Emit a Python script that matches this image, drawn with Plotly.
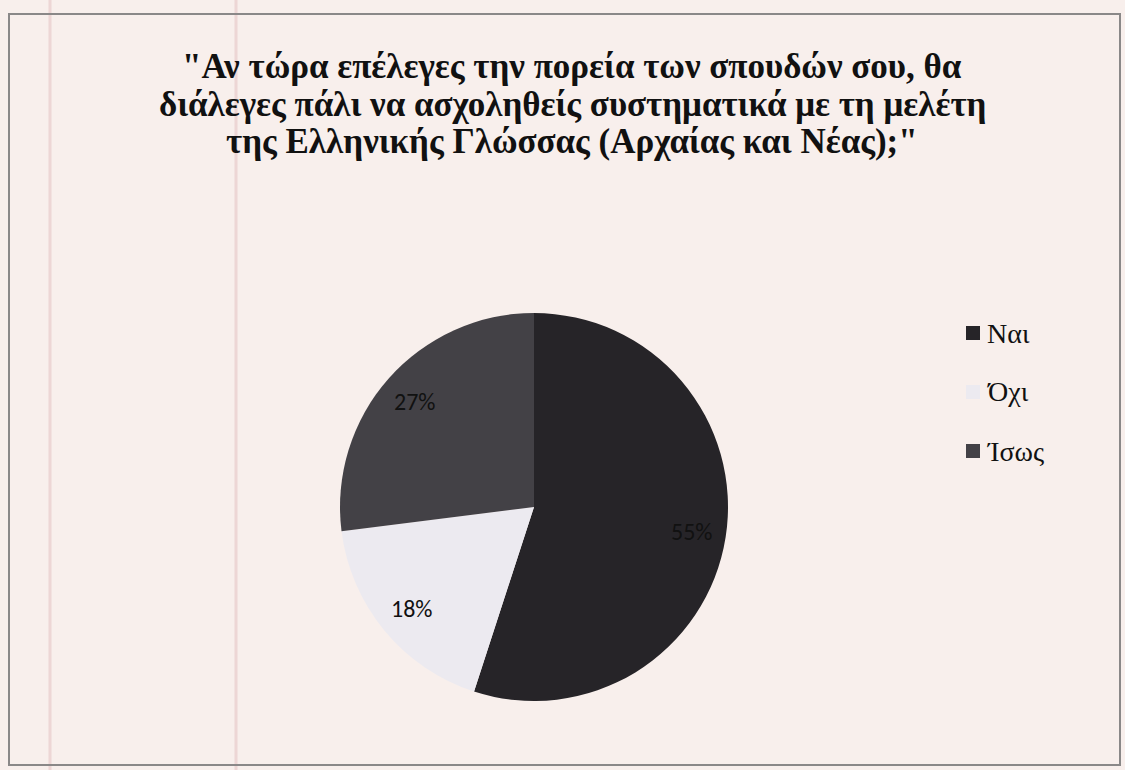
import math
import plotly.graph_objects as go

W, H = 1125, 770
labels = ["Ναι", "Όχι", "Ίσως"]
values = [55, 18, 27]
colors = ["#262428", "#eceaf0", "#434146"]
title_lines = [
    "\"Αν τώρα επέλεγες την πορεία των σπουδών σου, θα",
    "διάλεγες πάλι να ασχοληθείς συστηματικά με τη μελέτη",
    "της Ελληνικής Γλώσσας (Αρχαίας και Νέας);\"",
]

cx, cy, r = 534, 507, 194
SERIF = "Liberation Serif"

fig = go.Figure(go.Pie(
    labels=labels, values=values, sort=False, direction="clockwise", rotation=0,
    marker=dict(colors=colors, line=dict(width=0)),
    textinfo="none",
    domain=dict(x=[(cx - r) / W, (cx + r) / W], y=[(H - cy - r) / H, (H - cy + r) / H]),
    showlegend=False, hoverinfo="label+percent",
))

shapes = []
for xs in (50, 236):
    shapes.append(dict(type="line", xref="paper", yref="paper", x0=xs / W, x1=xs / W, y0=0, y1=1,
                       line=dict(color="rgba(225,190,190,0.5)", width=3), layer="below"))
shapes.append(dict(type="rect", xref="paper", yref="paper", x0=9 / W, x1=1120 / W, y0=1 - 765 / H, y1=1 - 14 / H,
                   line=dict(color="#8a8888", width=2), layer="above"))

annotations = []
for i, t in enumerate(title_lines):
    annotations.append(dict(
        text="<b>" + t + "</b>", xref="paper", yref="paper",
        x=572 / W, y=1 - (67 + 37 * i) / H, xanchor="center", yanchor="middle", showarrow=False,
        font=dict(family=SERIF, size=35, color="#111111"),
    ))

# percentage labels at ~0.82 radius on each slice's mid-angle (Excel best-fit style)
total = sum(values)
start = 0.0
for v in values:
    frac = v / total
    mid = (start + frac / 2) * 2 * math.pi
    start += frac
    px = cx + 0.82 * r * math.sin(mid)
    py = cy - 0.82 * r * math.cos(mid)
    annotations.append(dict(text=f"{round(frac * 100)}%", xref="paper", yref="paper",
                            x=px / W, y=1 - py / H, xanchor="center", yanchor="middle", showarrow=False,
                            font=dict(family="Carlito", size=24, color="#111111")))

ly0, lstep = 333, 59
for i, (lab, col) in enumerate(zip(labels, colors)):
    y = ly0 + i * lstep
    shapes.append(dict(type="rect", xref="paper", yref="paper",
                       x0=966 / W, x1=980 / W, y0=1 - (y + 7) / H, y1=1 - (y - 7) / H,
                       fillcolor=col, line=dict(width=0)))
    annotations.append(dict(text=lab, xref="paper", yref="paper", x=985 / W, y=1 - y / H,
                            xanchor="left", yanchor="middle", showarrow=False,
                            font=dict(family=SERIF, size=28, color="#111111")))

fig.update_layout(
    width=W, height=H, margin=dict(l=0, r=0, t=0, b=0),
    paper_bgcolor="#f8efec", plot_bgcolor="#f8efec",
    shapes=shapes, annotations=annotations,
)
fig.write_html("out.html")
